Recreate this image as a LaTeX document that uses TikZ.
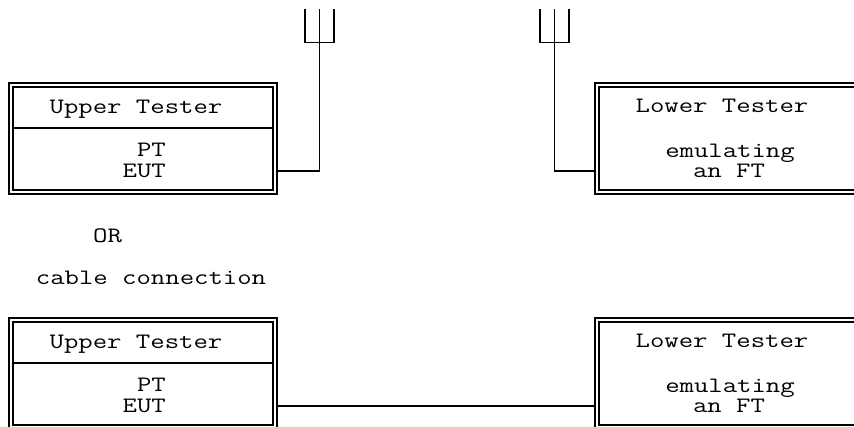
\documentclass[tikz,border=0pt]{standalone}
\usepackage{fontspec}
\setmonofont{Latin Modern Mono}[FakeStretch=1.27]
\begin{document}
\begin{tikzpicture}[x=1pt,y=-1pt,
  box/.style={draw, line width=1.2pt, rectangle, inner sep=0pt, outer sep=0pt, anchor=north west, minimum height=111pt},
  inbox/.style={line width=1.2pt},
  lbl/.style={font=\ttfamily\fontsize{22}{26}\selectfont, inner sep=0pt, anchor=base},
  lble/.style={lbl, anchor=base east},
  wire/.style={line width=1.2pt}]
\clip (0,0) rectangle (854,426);
% ---------- top: radio ----------
\node[box, minimum width=268pt] (ut1) at (9,83) {};
\draw[inbox] ([shift={(4pt,-4pt)}]ut1.north west) rectangle ([shift={(-4pt,4pt)}]ut1.south east);
\node[box, minimum width=300pt] (lt1) at (595,83) {};
\draw[inbox] ([shift={(4pt,-4pt)}]lt1.north west) rectangle ([shift={(-4pt,4pt)}]lt1.south east);
\draw[wire] ([xshift=4pt,yshift=-45pt]ut1.north west) -- ([xshift=-4pt,yshift=-45pt]ut1.north east);
\node[lbl] (ut1t) at (136,113) {Upper Tester};
\node[lble] (ut1p) at (166,156) {PT};
\node[lble] (ut1e) at (166,177) {EUT};
\node[lbl] (lt1t) at (722,112) {Lower Tester};
\node[lbl] (lt1e) at (730,157) {emulating};
\node[lbl] (lt1f) at (729,177) {an FT};
% left antenna
\coordinate (a1) at (319.5,171);
\coordinate (a1f) at (319.5,42.7);
\coordinate (a1t) at (319.5,9.3);
\coordinate (a1l) at (305,9.3);
\coordinate (a1r) at (334,9.3);
\draw[wire] (ut1.east |- a1) -- (a1) -- (a1t);
\draw[wire] (a1l) -- (a1l |- a1f) -- (a1r |- a1f) -- (a1r);
% right antenna
\coordinate (a2) at (554.3,171);
\coordinate (a2f) at (554.3,42.7);
\coordinate (a2t) at (554.3,9.3);
\coordinate (a2l) at (540,9.3);
\coordinate (a2r) at (569,9.3);
\draw[wire] (lt1.west |- a2) -- (a2) -- (a2t);
\draw[wire] (a2l) -- (a2l |- a2f) -- (a2r |- a2f) -- (a2r);
% ---------- middle text ----------
\node[lbl] (or) at (107.5,242) {OR};
\node[lbl] (cab) at (151,284) {cable connection};
% ---------- bottom: cable ----------
\node[box, minimum width=268pt] (ut2) at (9,318) {};
\draw[inbox] ([shift={(4pt,-4pt)}]ut2.north west) rectangle ([shift={(-4pt,4pt)}]ut2.south east);
\node[box, minimum width=300pt] (lt2) at (595,318) {};
\draw[inbox] ([shift={(4pt,-4pt)}]lt2.north west) rectangle ([shift={(-4pt,4pt)}]lt2.south east);
\draw[wire] ([xshift=4pt,yshift=-45pt]ut2.north west) -- ([xshift=-4pt,yshift=-45pt]ut2.north east);
\node[lbl] (ut2t) at (136,348) {Upper Tester};
\node[lble] (ut2p) at (166,391) {PT};
\node[lble] (ut2e) at (166,412) {EUT};
\node[lbl] (lt2t) at (722,347) {Lower Tester};
\node[lbl] (lt2e) at (730,392) {emulating};
\node[lbl] (lt2f) at (729,412) {an FT};
\coordinate (c) at (430,406);
\draw[wire] (ut2.east |- c) -- (lt2.west |- c);
\end{tikzpicture}
\end{document}
